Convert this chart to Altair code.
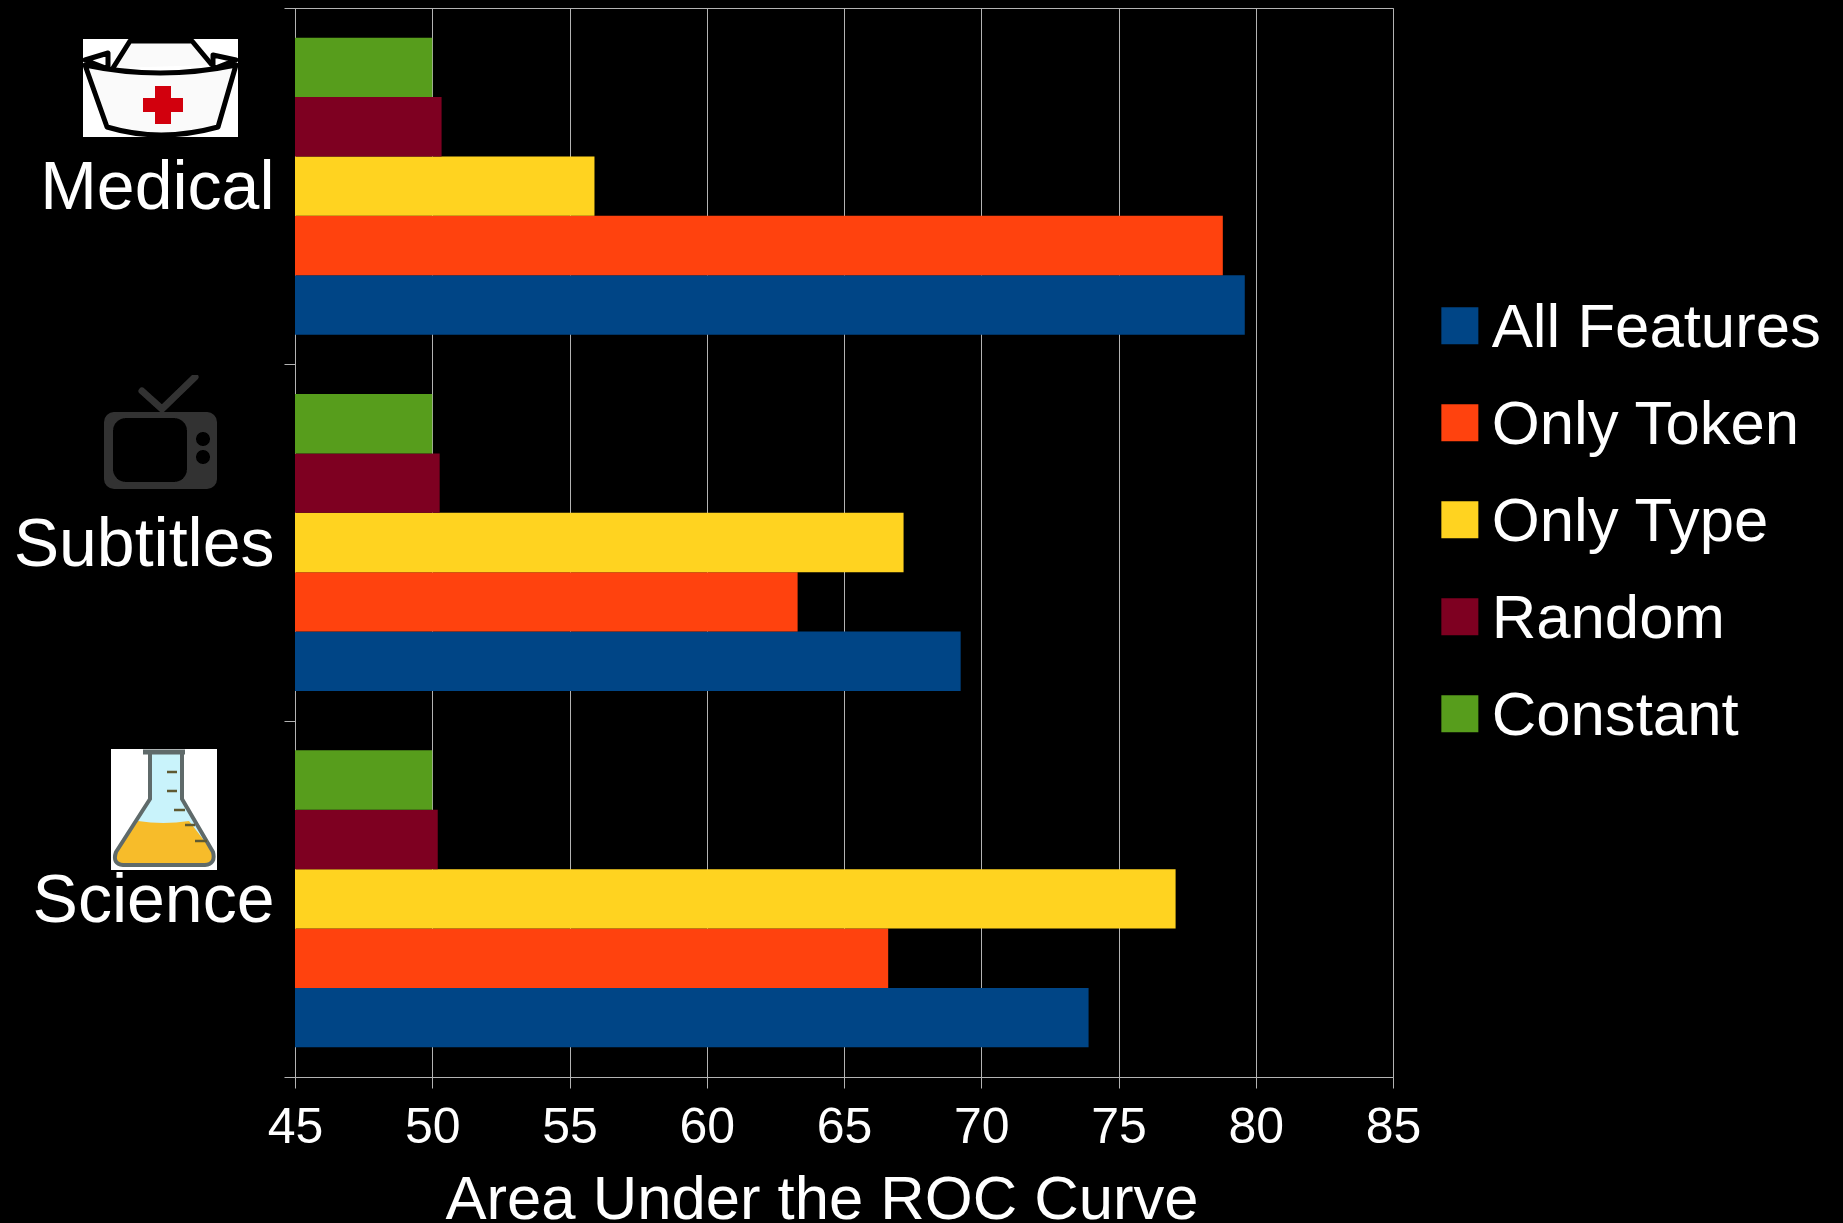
import base64

import altair as alt
import pandas as pd

# Chart values
domains = ["Medical", "Subtitles", "Science"]
series = ["All Features", "Only Token", "Only Type", "Random", "Constant"]
all_features = [79.6, 69.25, 73.91]
only_token = [78.8, 63.31, 66.61]
only_type = [55.91, 67.17, 77.08]
random_baseline = [50.34, 50.27, 50.2]
constant = [50.0, 50.0, 50.0]
palette = ["#004586", "#ff420e", "#ffd320", "#7e0021", "#579d1c"]
x_ticks = [45, 50, 55, 60, 65, 70, 75, 80, 85]
axis_floor = 45

rows = []
for name, values in zip(series, [all_features, only_token, only_type, random_baseline, constant]):
    for domain, value in zip(domains, values):
        rows.append({"domain": domain, "feature set": name, "auc": value})
table = pd.DataFrame(rows)

FONT = "Liberation Sans"
LINE = "#b3b3b3"


def svg_uri(body, w, h):
    svg = (
        f'<svg xmlns="http://www.w3.org/2000/svg" width="{w}" height="{h}" viewBox="0 0 {w} {h}">'
        '<defs><filter id="s" x="-5%" y="-5%" width="110%" height="110%">'
        '<feGaussianBlur stdDeviation="0.7"/></filter></defs>'
        f'{body}</svg>'
    )
    return "data:image/svg+xml;base64," + base64.b64encode(svg.encode()).decode()


# Small pictograms beside each category label
nurse_cap = svg_uri(
    '<rect width="155" height="98" fill="#fff"/>'
    '<g filter="url(#s)" fill="#fff" stroke="#000" stroke-width="5" stroke-linejoin="round">'
    '<path d="M30 29 L47 2 L109 2 L129 26" fill="#fafafa"/>'
    '<path d="M2 21 L25 14 L25 30 Z M130 16 L153 21 L130 30 Z"/>'
    '<path d="M2 26 L24 88 Q77 104 135 88 L153 26 Q77 42 2 26 Z" fill="#fafafa"/>'
    '<path d="M60 59 H72 V47 H88 V59 H100 V73 H88 V85 H72 V73 H60 Z" fill="#d2000c" stroke="none"/>'
    '</g>',
    155, 98,
)
television = svg_uri(
    '<g filter="url(#s)">'
    '<path d="M38 16 L58 34 L91 2" fill="none" stroke="#333" stroke-width="7" stroke-linecap="round"/>'
    '<rect y="37" width="113" height="77" rx="10" fill="#333"/>'
    '<rect x="9" y="43" width="74" height="64" rx="13" fill="#000"/>'
    '<circle cx="99" cy="64" r="7" fill="#000"/><circle cx="99" cy="82" r="7" fill="#000"/>'
    '</g>',
    113, 114,
)
flask = svg_uri(
    '<rect width="106" height="121" fill="#fff"/>'
    '<g filter="url(#s)">'
    '<path d="M39 4 V50 L5 103 Q1 115 12 116 H94 Q105 115 102 103 L71 50 V4 Z" fill="#c9f3fb"/>'
    '<path d="M27 72 Q52 76 78 72 L102 103 Q105 115 94 116 H12 Q1 115 5 103 Z" fill="#f7bc2a"/>'
    '<path d="M39 4 V50 L5 103 Q1 115 12 116 H94 Q105 115 102 103 L71 50 V4" fill="none" stroke="#5f6b6b" stroke-width="4"/>'
    '<path d="M32 3 H74" stroke="#5f6b6b" stroke-width="5"/>'
    '<path d="M56 23 H66 M56 42 H66 M63 61 H74 M74 76 H84 M84 92 H96" stroke="#5f5a30" stroke-width="2.5"/>'
    '</g>',
    106, 121,
)

# Legend swatch: the unit square raised a little so it centres on the capitals of its label
raised_square = "M-1,-1.12H1V0.88H-1Z"

bars = (
    alt.Chart(table)
    .mark_bar(cornerRadius=0)
    .encode(
        x=alt.X(
            "auc:Q",
            stack=None,
            scale=alt.Scale(domain=[45, 85], nice=False, zero=False),
            axis=alt.Axis(
                values=x_ticks,
                title="Area Under the ROC Curve",
                titleFont=FONT,
                titleFontSize=61.6,
                titleFontWeight="normal",
                titleColor="#fff",
                titleAlign="center",
                titleBaseline="alphabetic",
                titleX=526.5,
                titleY=141,
                labelFont=FONT,
                labelFontSize=50,
                labelColor="#fff",
                labelPadding=14,
                labelFlush=False,
                labelOverlap=False,
                tickSize=11,
                tickColor=LINE,
                domainColor=LINE,
                grid=True,
                gridColor=LINE,
                gridWidth=1,
            ),
        ),
        x2=alt.datum(axis_floor),
        y=alt.Y(
            "domain:N",
            scale=alt.Scale(domain=domains, paddingInner=0, paddingOuter=0),
            sort=domains,
            axis=alt.Axis(
                title=None,
                tickBand="extent",
                tickSize=11,
                tickColor=LINE,
                domainColor=LINE,
                labelFont=FONT,
                labelFontSize=68,
                labelColor="#fff",
                labelPadding=10,
                labelOffset=2.5,
                labelLimit=400,
                grid=False,
            ),
        ),
        yOffset=alt.YOffset(
            "feature set:N",
            sort=series[::-1],
            scale=alt.Scale(paddingInner=0, paddingOuter=0.5),
        ),
        color=alt.Color(
            "feature set:N",
            scale=alt.Scale(domain=series, range=palette),
            sort=series,
            legend=alt.Legend(
                title=None,
                orient="none",
                legendX=1134,
                legendY=289,
                symbolType=raised_square,
                symbolSize=1369,
                symbolStrokeWidth=0,
                symbolOffset=0,
                labelFont=FONT,
                labelFontSize=61.7,
                labelColor="#fff",
                labelOffset=1,
                labelLimit=500,
                rowPadding=34,
            ),
        ),
    )
)


def pictogram(uri, w, h, cx, cy):
    return (
        alt.Chart(pd.DataFrame({"icon": [uri]}))
        .mark_image(width=w, height=h, aspect=False)
        .encode(url="icon:N", x=alt.value(cx), y=alt.value(cy))
    )


chart = (
    alt.layer(
        bars,
        pictogram(nurse_cap, 155, 98, -134.5, 80),
        pictogram(television, 113, 114, -134.5, 424),
        pictogram(flask, 106, 121, -131, 801.5),
    )
    .properties(
        width=1098,
        height=1069,
        background="#000",
        padding={"left": 295, "top": 8, "right": 450, "bottom": 146},
        autosize=alt.AutoSizeParams(type="none"),
    )
    .configure_view(stroke=LINE, strokeWidth=1)
)

chart.save("out.html", embed_options={"renderer": "svg", "actions": False})
